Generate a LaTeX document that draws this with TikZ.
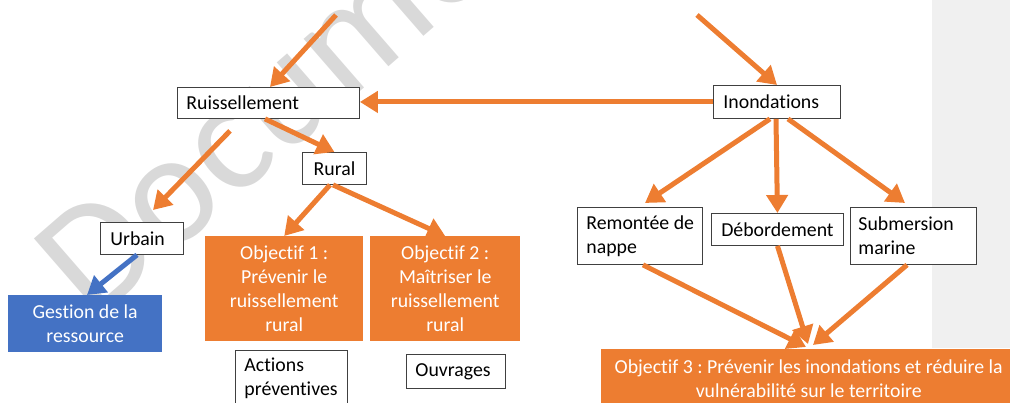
\documentclass[tikz,border=0pt]{standalone}
\usepackage{fontspec}
\setmainfont{Carlito}[Ligatures=NoCommon]
\frenchspacing
\usetikzlibrary{arrows.meta,calc}
\definecolor{orng}{HTML}{ED7D31}
\definecolor{blu}{HTML}{4472C4}
\definecolor{bline}{HTML}{404040}
\definecolor{band}{HTML}{F0F0F0}
\definecolor{wmark}{HTML}{D9D9D9}
\newcommand\dfont{\fontsize{19.8}{24}\selectfont}
\tikzset{
  wbox/.style={draw=bline, fill=white, line width=0.9pt, font=\dfont, text=black,
    inner ysep=0pt, anchor=north west, align=flush left},
  obox/.style={fill=orng, text=white, font=\dfont, align=flush center, anchor=north west,
    inner sep=0pt},
  bbox/.style={fill=blu, text=white, font=\dfont, align=flush center, anchor=north west,
    inner sep=0pt},
  arr/.style={draw=orng, line width=5pt, -{Triangle[length=18pt,width=21pt]}},
  barr/.style={draw=blu, line width=5pt, -{Triangle[length=18pt,width=21pt]}},
}
\begin{document}
\begin{tikzpicture}[x=1pt,y=-1pt]
\useasboundingbox (0,0) rectangle (1010,403);
\clip (0,0) rectangle (1010,403);
\fill[band] (932,0) rectangle (1010,348);
\node[font=\fontsize{160}{160}\selectfont, text=wmark, rotate=41,
  anchor=base west, inner sep=0pt] (wm) at (93,324) {Document};

% boxes
\node[wbox, text width=164pt, inner xsep=9pt, minimum height=31pt] (ruis) at (177,87) {Ruissellement};
\node[wbox, text width=64pt, inner xsep=0pt, minimum height=32pt, align=flush center] (rural) at (302,152) {Rural};
\node[wbox, text width=107pt, inner xsep=10pt, minimum height=33pt] (inond) at (713,85) {Inondations};
\node[wbox, text width=63pt, inner xsep=10pt, minimum height=32pt] (urbain) at (100,222) {Urbain};
\node[bbox, text width=154pt, minimum height=57pt] (gestion) at (8,295) {Gestion de la\\ressource};
\node[obox, text width=158pt, minimum height=105pt] (obj1) at (205,236)
  {Objectif 1 :\\Prévenir le\\ruissellement\\rural};
\node[obox, text width=150pt, minimum height=105pt] (obj2) at (370,236)
  {Objectif 2 :\\Maîtriser le\\ruissellement\\rural};
\node[wbox, text width=94pt, inner xsep=9pt, minimum height=56pt] (actions) at (235,350)
  {\mbox{Actions}\\\mbox{préventives}};
\node[wbox, text width=81pt, inner xsep=9pt, minimum height=34pt] (ouvr) at (406,354) {Ouvrages};
\node[wbox, text width=107pt, inner xsep=9pt, minimum height=57pt] (remontee) at (577,207)
  {\mbox{Remontée de}\\\mbox{nappe}};
\node[wbox, text width=114pt, inner xsep=9pt, minimum height=32pt, align=flush center] (deb) at (711,213) {Débordement};
\node[wbox, text width=110pt, inner xsep=8pt, minimum height=57pt] (subm) at (850,207)
  {\mbox{Submersion}\\\mbox{marine}};
\node[obox, text width=415pt, minimum height=58pt] (obj3) at (601,349)
  {Objectif 3 : Prévenir les inondations et réduire la\\vulnérabilité sur le territoire};

% free ends
\coordinate (t1) at (336,15);
\coordinate (t2) at (697,15);

% connectors
\draw[arr] (t1) -- ([xshift=93pt]ruis.north west);
\draw[arr] (t2) -- ([xshift=64pt]inond.north west);
\draw[arr] (inond.west) -- (inond.west -| ruis.east);
\draw[arr] ([xshift=88pt]ruis.south west) -- (rural.north);
\draw[arr] ([xshift=53pt,yshift=-12pt]ruis.south west) -- ([xshift=53pt,yshift=12pt]urbain.north west);
\draw[barr] ([xshift=37pt]urbain.south west) -- ([xshift=79pt]gestion.north west);
\draw[arr] ([xshift=28pt]rural.south west) -- (obj1.north);
\draw[arr] ([xshift=31pt]rural.south west) -- (obj2.north);
\draw[arr] ([xshift=57pt]inond.south west) -- ([xshift=68pt,yshift=4pt]remontee.north west);
\draw[arr] ([xshift=63pt]inond.south west) -- (deb.north);
\draw[arr] ([xshift=75pt]inond.south west) -- ([xshift=55pt,yshift=4pt]subm.north west);
\draw[arr] ([xshift=66pt]remontee.south west) -- ([xshift=205pt,yshift=2pt]obj3.north west);
\draw[arr] (deb.south) -- ([xshift=207pt,yshift=5pt]obj3.north west);
\draw[arr] ([xshift=57pt]subm.south west) -- ([xshift=212pt,yshift=4pt]obj3.north west);
\end{tikzpicture}
\end{document}
